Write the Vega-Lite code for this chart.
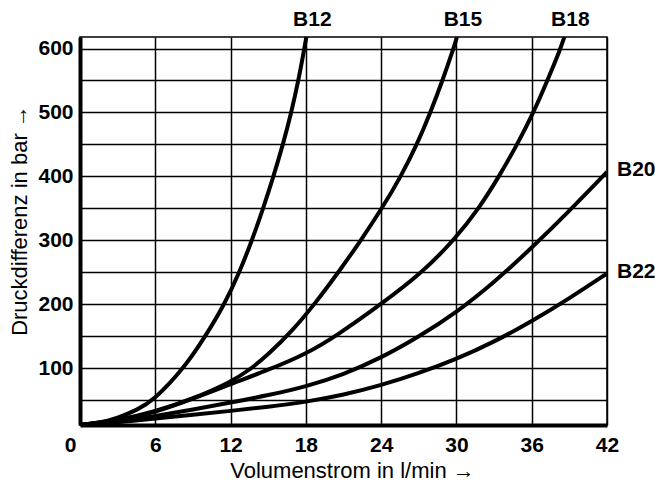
{
  "$schema": "https://vega.github.io/schema/vega-lite/v6.json",
  "width": 527,
  "height": 388,
  "autosize": "none",
  "padding": {"left": 80, "top": 37, "right": 48, "bottom": 67},
  "background": "white",
  "config": {
    "view": {"stroke": "black", "strokeWidth": 1.5},
    "axis": {
      "labelFont": "Liberation Sans",
      "labelFontWeight": "bold",
      "labelFontSize": 21,
      "labelColor": "black",
      "labelFlush": false,
      "titleFont": "Liberation Sans",
      "titleFontWeight": "normal",
      "titleFontSize": 22,
      "titleColor": "black",
      "grid": true,
      "gridColor": "black",
      "gridWidth": 1.5,
      "gridOpacity": 1,
      "domainColor": "black",
      "domainWidth": 4,
      "ticks": false
    }
  },
  "datasets": {
    "curves": [
      {"series": "B12", "q": 0, "p": 11},
      {"series": "B12", "q": 1.5, "p": 14},
      {"series": "B12", "q": 3, "p": 22},
      {"series": "B12", "q": 4.5, "p": 34},
      {"series": "B12", "q": 5.9, "p": 50},
      {"series": "B12", "q": 8.3, "p": 100},
      {"series": "B12", "q": 10.0, "p": 150},
      {"series": "B12", "q": 11.52, "p": 200},
      {"series": "B12", "q": 12.71, "p": 250},
      {"series": "B12", "q": 13.71, "p": 300},
      {"series": "B12", "q": 14.6, "p": 350},
      {"series": "B12", "q": 15.42, "p": 400},
      {"series": "B12", "q": 16.18, "p": 450},
      {"series": "B12", "q": 16.84, "p": 500},
      {"series": "B12", "q": 17.41, "p": 550},
      {"series": "B12", "q": 17.88, "p": 600},
      {"series": "B12", "q": 18.04, "p": 618},
      {"series": "B15", "q": 0, "p": 11},
      {"series": "B15", "q": 3, "p": 18},
      {"series": "B15", "q": 6, "p": 32},
      {"series": "B15", "q": 9, "p": 52},
      {"series": "B15", "q": 12, "p": 78},
      {"series": "B15", "q": 13.5, "p": 97},
      {"series": "B15", "q": 15, "p": 121},
      {"series": "B15", "q": 17, "p": 160},
      {"series": "B15", "q": 18.69, "p": 200},
      {"series": "B15", "q": 20.6, "p": 250},
      {"series": "B15", "q": 22.39, "p": 300},
      {"series": "B15", "q": 24.07, "p": 350},
      {"series": "B15", "q": 25.58, "p": 400},
      {"series": "B15", "q": 26.86, "p": 450},
      {"series": "B15", "q": 27.93, "p": 500},
      {"series": "B15", "q": 28.89, "p": 550},
      {"series": "B15", "q": 29.77, "p": 600},
      {"series": "B15", "q": 30.04, "p": 618},
      {"series": "B18", "q": 0, "p": 11},
      {"series": "B18", "q": 3, "p": 17},
      {"series": "B18", "q": 6, "p": 31},
      {"series": "B18", "q": 9, "p": 52},
      {"series": "B18", "q": 12, "p": 75},
      {"series": "B18", "q": 15, "p": 97},
      {"series": "B18", "q": 18, "p": 122},
      {"series": "B18", "q": 20.4, "p": 150},
      {"series": "B18", "q": 24, "p": 200},
      {"series": "B18", "q": 27.3, "p": 250},
      {"series": "B18", "q": 29.8, "p": 300},
      {"series": "B18", "q": 31.8, "p": 350},
      {"series": "B18", "q": 33.4, "p": 400},
      {"series": "B18", "q": 34.85, "p": 450},
      {"series": "B18", "q": 36.15, "p": 500},
      {"series": "B18", "q": 37.25, "p": 550},
      {"series": "B18", "q": 38.3, "p": 600},
      {"series": "B18", "q": 38.6, "p": 618},
      {"series": "B20", "q": 0, "p": 11},
      {"series": "B20", "q": 3, "p": 16},
      {"series": "B20", "q": 6, "p": 25},
      {"series": "B20", "q": 9, "p": 35},
      {"series": "B20", "q": 12, "p": 46},
      {"series": "B20", "q": 15, "p": 57.5},
      {"series": "B20", "q": 18, "p": 71},
      {"series": "B20", "q": 21, "p": 90},
      {"series": "B20", "q": 24, "p": 116},
      {"series": "B20", "q": 27, "p": 149},
      {"series": "B20", "q": 30, "p": 187},
      {"series": "B20", "q": 33, "p": 234},
      {"series": "B20", "q": 36, "p": 288},
      {"series": "B20", "q": 39, "p": 346},
      {"series": "B20", "q": 42, "p": 407},
      {"series": "B22", "q": 0, "p": 11},
      {"series": "B22", "q": 3, "p": 15},
      {"series": "B22", "q": 6, "p": 21},
      {"series": "B22", "q": 9, "p": 27},
      {"series": "B22", "q": 12, "p": 33},
      {"series": "B22", "q": 15, "p": 39.5},
      {"series": "B22", "q": 18, "p": 47},
      {"series": "B22", "q": 21, "p": 58},
      {"series": "B22", "q": 24, "p": 73},
      {"series": "B22", "q": 27, "p": 92},
      {"series": "B22", "q": 30, "p": 114},
      {"series": "B22", "q": 33, "p": 141},
      {"series": "B22", "q": 36, "p": 173},
      {"series": "B22", "q": 39, "p": 209},
      {"series": "B22", "q": 42, "p": 248}
    ]
  },
  "data": {"name": "curves"},
  "encoding": {
    "x": {
      "field": "q",
      "type": "quantitative",
      "scale": {"domain": [0, 42], "nice": false, "zero": false},
      "axis": {
        "title": "Volumenstrom in l/min →",
        "values": [0, 6, 12, 18, 24, 30, 36, 42],
        "labelPadding": 9,
        "labelOffset": {"condition": {"test": "datum.value == 0", "value": -10}, "value": 0},
        "titleX": 272,
        "titleY": 45,
        "titleBaseline": "middle"
      }
    },
    "y": {
      "field": "p",
      "type": "quantitative",
      "scale": {"domain": [11, 618], "nice": false, "zero": false},
      "axis": {
        "title": "Druckdifferenz in bar →",
        "values": [50, 100, 150, 200, 250, 300, 350, 400, 450, 500, 550, 600],
        "labelExpr": "datum.value % 100 == 0 ? datum.label : ''",
        "labelPadding": 7,
        "titleX": -61,
        "titleY": 183,
        "titleBaseline": "middle"
      }
    }
  },
  "layer": [
    {
      "mark": {"type": "line", "color": "black", "strokeWidth": 4, "interpolate": "basis", "clip": true},
      "encoding": {"detail": {"field": "series"}}
    },
    {
      "transform": [
        {"joinaggregate": [{"op": "max", "field": "q", "as": "qmax"}], "groupby": ["series"]},
        {"filter": "datum.q == datum.qmax && datum.q < 41"}
      ],
      "mark": {"type": "text", "font": "Liberation Sans", "fontWeight": "bold", "fontSize": 21, "color": "black", "align": "center", "baseline": "middle", "dx": 6, "dy": -17},
      "encoding": {"text": {"field": "series"}}
    },
    {
      "transform": [
        {"joinaggregate": [{"op": "max", "field": "q", "as": "qmax"}], "groupby": ["series"]},
        {"filter": "datum.q == datum.qmax && datum.q >= 41"}
      ],
      "mark": {"type": "text", "font": "Liberation Sans", "fontWeight": "bold", "fontSize": 21, "color": "black", "align": "left", "baseline": "middle", "dx": 10, "dy": -2},
      "encoding": {"text": {"field": "series"}}
    }
  ]
}
